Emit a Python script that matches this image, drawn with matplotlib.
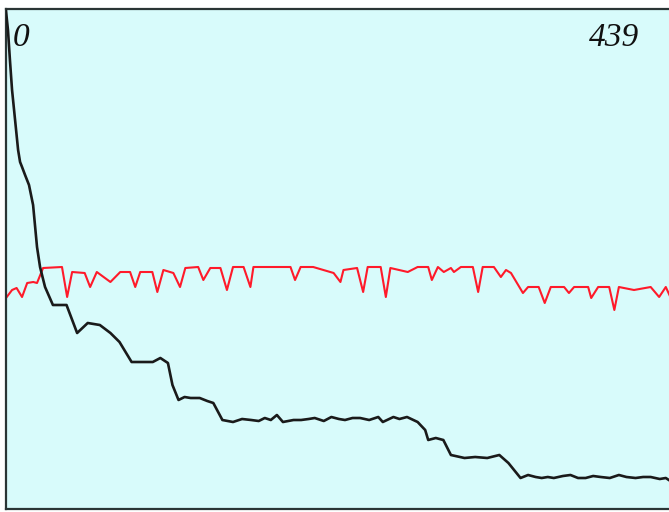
import matplotlib
matplotlib.use("Agg")
import matplotlib.pyplot as plt

# Black series (decreasing)
black_x = [0, 1.3, 2.6, 4, 6, 8, 9.3, 10.6, 12.6, 15.2, 17.9, 20.5, 22.5, 25.8, 31, 40,
           47, 54, 62, 69, 75, 83, 97, 102, 107, 110, 114, 118, 122, 128, 133, 137,
           143, 150, 156, 162, 167, 171, 175, 179, 183, 190, 195, 200, 204, 210, 215,
           220, 224, 229, 234, 240, 246, 249, 256, 260, 265, 272, 277, 279, 284, 289,
           294, 303, 310, 318, 326, 332, 340, 345, 350, 354, 358, 362, 368, 373, 378,
           383, 388, 393, 399, 405, 410, 416, 421, 426, 432, 436, 439]
black_y = [498, 479, 449, 419, 389, 359, 347, 342, 334, 324, 304, 262, 242, 222, 204, 204,
           176, 186, 184, 176, 167, 147, 147, 151, 146, 124, 109, 112, 111, 111, 108, 106,
           89, 87, 90, 89, 88, 91, 89, 94, 87, 89, 89, 90, 91, 88, 92,
           90, 89, 91, 91, 89, 92, 87, 92, 90, 92, 87, 79, 69, 71, 69,
           54, 51, 52, 51, 54, 46, 31, 34, 32, 31, 32, 31, 33, 34, 31,
           31, 33, 32, 31, 34, 32, 31, 32, 32, 30, 31, 28]

# Red series (flat with dips)
red_x = [0, 4, 7, 10.6, 14, 18, 20.5, 24.5, 37, 40.4, 43.7, 52, 55.6, 60, 69, 75.5,
         82, 85.4, 88.7, 96.7, 100, 104, 110.6, 115, 118.5, 127, 130.4, 135, 141.7, 146,
         150, 157, 161.5, 163.5, 188, 191, 194.7, 203, 216.5, 221, 223, 232, 236, 239,
         247.6, 251, 254, 265.5, 272, 279, 281.4, 285.4, 289.3, 294, 296, 300.6, 308.5,
         312, 315, 322.4, 327, 330.4, 333.7, 341.6, 345, 352, 356, 360, 368.8, 372,
         375.4, 384.7, 386.7, 391.3, 398.6, 402, 405, 415, 426, 431.6, 436, 439]
red_y = [211, 219, 221, 212, 226, 227, 226, 241, 242, 212, 237, 236, 222, 237, 227, 237,
         237, 222, 237, 237, 217, 239, 236, 222, 241, 242, 229, 241, 241, 219,
         242, 242, 222, 242, 242, 229, 242, 242, 236, 227, 239, 241, 217, 242,
         242, 212, 241, 237, 242, 242, 229, 242, 237, 241, 237, 242, 242,
         217, 242, 242, 232, 239, 236, 216, 222, 222, 206, 222, 222, 216,
         222, 222, 211, 222, 222, 199, 222, 219, 222, 212, 222, 212]

x_labels = ["0", "439"]

fig = plt.figure(figsize=(6.69, 5.12), dpi=100)
ax = fig.add_axes([6 / 669, 3 / 512, 1 - 6 / 669 + 0.002, 500 / 512])
ax.set_facecolor("#d8fbfb")
ax.plot(red_x, red_y, color="#ff1a2a", lw=1.5, zorder=2)
ax.plot(black_x, black_y, color="#1a1a1a", lw=1.9, zorder=3)
ax.set_xlim(0, 439)
ax.set_ylim(0, 500)
ax.set_xticks([])
ax.set_yticks([])
for side in ["left", "top", "bottom"]:
    ax.spines[side].set_color("#2a3535")
    ax.spines[side].set_linewidth(1.6)
ax.spines["right"].set_visible(False)

ax.text(0.010, 0.974, x_labels[0], transform=ax.transAxes, ha="left", va="top",
        family="Liberation Serif", style="italic", fontsize=24, color="#111111")
ax.text(0.953, 0.974, x_labels[1], transform=ax.transAxes, ha="right", va="top",
        family="Liberation Serif", style="italic", fontsize=24, color="#111111")

fig.savefig("out.png", dpi=100, facecolor="white")
